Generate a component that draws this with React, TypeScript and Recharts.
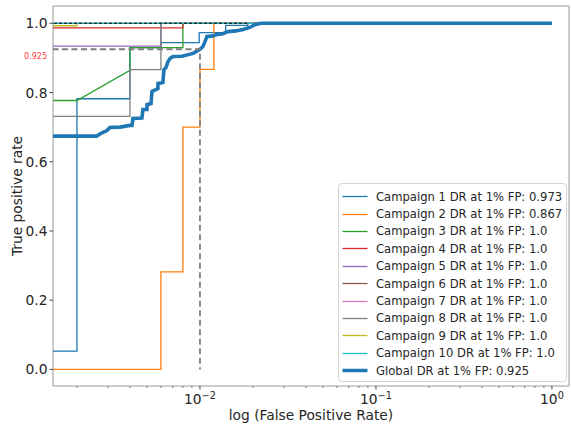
import React from 'react';
import { LineChart, Line, XAxis, YAxis, ReferenceArea, Legend } from 'recharts';

// ROC curves start at FPR = 0, which lies left of the log axis; this value stands in for it.
const X_START = 0.001;

const campaignNames = [
  'Campaign 1', 'Campaign 2', 'Campaign 3', 'Campaign 4', 'Campaign 5',
  'Campaign 6', 'Campaign 7', 'Campaign 8', 'Campaign 9', 'Campaign 10',
];
const campaignDR = ['0.973', '0.867', '1.0', '1.0', '1.0', '1.0', '1.0', '1.0', '1.0', '1.0'];
const globalDR = 0.925;
const fpThreshold = 0.01;

// [FPR, TPR] points
const campaign1 = [[X_START, 0.053], [0.002, 0.053], [0.002, 0.782], [0.004, 0.782], [0.004, 0.93], [0.006, 0.93], [0.006, 0.944], [0.0099, 0.944], [0.0099, 0.973], [0.014, 0.973], [0.014, 0.994], [0.0187, 0.994], [0.0187, 1.0], [1, 1]];
const campaign2 = [[X_START, 0], [0.006, 0], [0.006, 0.282], [0.008, 0.282], [0.008, 0.70], [0.01, 0.70], [0.01, 0.867], [0.012, 0.867], [0.012, 1.0], [1, 1]];
const campaign3 = [[X_START, 0.777], [0.002, 0.777], [0.004, 0.864], [0.004, 0.93], [0.008, 0.93], [0.008, 1.0], [1, 1]];
const campaign4 = [[X_START, 0.987], [0.008, 0.987], [0.008, 1.0], [1, 1]];
const campaign5 = [[X_START, 0.934], [0.006, 0.934], [0.006, 1.0], [1, 1]];
const campaign6 = [[X_START, 1.0], [1, 1]];
const campaign7 = [[X_START, 1.0], [1, 1]];
const campaign8 = [[X_START, 0.731], [0.004, 0.731], [0.004, 0.866], [0.006, 0.866], [0.006, 1.0], [1, 1]];
const campaign9 = [[X_START, 0.993], [0.002, 0.993], [0.002, 1.0], [1, 1]];
const campaign10 = [[X_START, 1.0], [1, 1]];
const globalCurve = [
  [X_START, 0.674], [0.00259, 0.674], [0.00274, 0.682], [0.00296, 0.69], [0.00308, 0.699],
  [0.00351, 0.70], [0.004, 0.705], [0.00411, 0.705], [0.00416, 0.725], [0.00468, 0.726],
  [0.00474, 0.751], [0.005, 0.751], [0.005, 0.765], [0.00527, 0.768], [0.00534, 0.803],
  [0.00577, 0.811], [0.00577, 0.826], [0.00616, 0.829], [0.00624, 0.866], [0.00641, 0.872],
  [0.00658, 0.889], [0.00675, 0.898], [0.00703, 0.904], [0.00791, 0.905], [0.00913, 0.913],
  [0.00987, 0.923], [0.01, 0.925], [0.0104, 0.933], [0.01068, 0.947], [0.01096, 0.962],
  [0.0117, 0.963], [0.0125, 0.9675], [0.0135, 0.97], [0.0144, 0.976], [0.016, 0.978],
  [0.01755, 0.982], [0.0192, 0.988], [0.0205, 0.996], [0.0222, 1.0], [1, 1],
];
const globalMarker = [[X_START, globalDR], [fpThreshold, globalDR], [fpThreshold, 0]];
const perfectMarker = [[X_START, 1.0], [0.0187, 1.0]];

const campaignCurves = [campaign1, campaign2, campaign3, campaign4, campaign5, campaign6, campaign7, campaign8, campaign9, campaign10];
const campaignColors = ['#1f77b4', '#ff7f0e', '#2ca02c', '#d62728', '#9467bd', '#8c564b', '#e377c2', '#7f7f7f', '#bcbd22', '#17becf'];
const globalColor = '#1f77b4';

const xMajorTicks = [0.01, 0.1, 1];
const xMajorExponents = ['\u22122', '\u22121', '0'];
const xMinorTicks = [0.002, 0.003, 0.004, 0.005, 0.006, 0.007, 0.008, 0.009, 0.02, 0.03, 0.04, 0.05, 0.06, 0.07, 0.08, 0.09, 0.2, 0.3, 0.4, 0.5, 0.6, 0.7, 0.8, 0.9];
const yTicks = [0, 0.2, 0.4, 0.6, 0.8, 1.0];
const yTickLabels = ['0.0', '0.2', '0.4', '0.6', '0.8', '1.0'];

const X_DOMAIN = [0.001462, 1.25];
const Y_DOMAIN = [-0.048, 1.05];
const FONT = '"DejaVu Sans", sans-serif';
const TEXT = '#262626';

const toPoints = (arr: number[][]) => arr.map(([x, y]) => ({ x, y }));

const XTick = (props: any) => {
  const { x, y, payload } = props;
  const v = payload.value;
  const mi = xMajorTicks.findIndex((m) => Math.abs(m - v) < 1e-9);
  const major = mi >= 0;
  return (
    <g>
      <line x1={x} x2={x} y1={y} y2={y + (major ? 3.5 : 2)} stroke="#333" strokeWidth={major ? 0.9 : 0.6} />
      {major && (
        <text x={x} y={y + 18} textAnchor="middle" fontSize={13.8} fill={TEXT} fontFamily={FONT}>
          10<tspan dy={-5.5} fontSize={9.7}>{xMajorExponents[mi]}</tspan>
        </text>
      )}
    </g>
  );
};

const YTick = (props: any) => {
  const { x, y, payload } = props;
  const v = payload.value;
  if (Math.abs(v - globalDR) < 1e-9) {
    return (
      <text x={x - 6} y={y + 7} textAnchor="end" dominantBaseline="central" fontSize={8} fill="#ff3b3b" fontFamily={FONT}>
        {String(globalDR)}
      </text>
    );
  }
  const i = yTicks.findIndex((t) => Math.abs(t - v) < 1e-9);
  return (
    <g>
      <line x1={x - 3.5} x2={x} y1={y} y2={y} stroke="#333" strokeWidth={0.9} />
      <text x={x - 5.5} y={y} textAnchor="end" dominantBaseline="central" fontSize={13.8} fill={TEXT} fontFamily={FONT}>
        {yTickLabels[i]}
      </text>
    </g>
  );
};

const legendItems = [
  ...campaignNames.map((n, i) => ({ label: `${n} DR at 1% FP: ${campaignDR[i]}`, color: campaignColors[i], width: 1.3 })),
  { label: `Global DR at 1% FP: ${globalDR}`, color: globalColor, width: 3.5 },
];

const renderLegend = () => (
  <div
    style={{
      position: 'absolute', left: 0, top: 0, width: 229, height: 199, boxSizing: 'border-box',
      border: '1px solid #d4d4d4', borderRadius: 4, background: 'rgba(255,255,255,0.85)',
      fontFamily: FONT, fontSize: 11.6, color: TEXT,
    }}
  >
    {legendItems.map((it, i) => (
      <div key={i} style={{ position: 'absolute', left: 0, top: 4 + i * 17.4, height: 17.4, display: 'flex', alignItems: 'center', whiteSpace: 'nowrap' }}>
        <svg width={37} height={17} style={{ display: 'block' }}>
          <line x1={3.5} x2={28.5} y1={8.5} y2={8.5} stroke={it.color} strokeWidth={it.width} />
        </svg>
        <span>{it.label}</span>
      </div>
    ))}
  </div>
);

export default function App() {
  return (
    <div style={{ position: 'absolute', left: 0, top: 0, width: 571, height: 424, background: '#fff' }}>
      <LineChart width={571} height={424} margin={{ top: 6, right: 2, left: 0, bottom: 0 }}>
        <XAxis
          type="number"
          dataKey="x"
          scale="log"
          domain={X_DOMAIN}
          allowDataOverflow
          ticks={[...xMinorTicks, ...xMajorTicks].sort((a, b) => a - b)}
          interval={0}
          tickLine={false}
          axisLine={false}
          tickSize={0}
          tickMargin={0}
          height={38}
          tick={<XTick />}
          label={{
            content: (p: any) => {
              const vb = p.viewBox || { x: 53, width: 516, y: 386 };
              return (
                <text x={vb.x + vb.width / 2} y={419.5} textAnchor="middle" fontSize={13.8} fill={TEXT} fontFamily={FONT}>
                  log (False Positive Rate)
                </text>
              );
            },
          }}
        />
        <YAxis
          type="number"
          dataKey="y"
          domain={Y_DOMAIN}
          allowDataOverflow
          ticks={[...yTicks, globalDR]}
          interval={0}
          tickLine={false}
          axisLine={false}
          tickSize={0}
          tickMargin={0}
          width={53}
          tick={<YTick />}
          label={{
            content: (p: any) => {
              const vb = p.viewBox || { y: 6, height: 380 };
              const cy = vb.y + vb.height / 2;
              return (
                <text x={22} y={cy} transform={`rotate(-90, 22, ${cy})`} textAnchor="middle" fontSize={13.8} fill={TEXT} fontFamily={FONT}>
                  True positive rate
                </text>
              );
            },
          }}
        />
        <ReferenceArea
          x1={X_DOMAIN[0]}
          x2={X_DOMAIN[1]}
          y1={Y_DOMAIN[0]}
          y2={Y_DOMAIN[1]}
          ifOverflow="visible"
          fill="none"
          fillOpacity={0}
          stroke="#9a9a9a"
          strokeWidth={1}
        />
        {campaignCurves.map((c, i) => (
          <Line
            key={campaignNames[i]}
            data={toPoints(c)}
            dataKey="y"
            name={campaignNames[i]}
            type="linear"
            stroke={campaignColors[i]}
            strokeWidth={1.3}
            dot={false}
            activeDot={false}
            isAnimationActive={false}
          />
        ))}
        <Line
          data={toPoints(globalCurve)}
          dataKey="y"
          name="Global"
          type="linear"
          stroke={globalColor}
          strokeWidth={3.6}
          strokeLinejoin="miter"
          dot={false}
          activeDot={false}
          isAnimationActive={false}
        />
        <Line
          data={toPoints(globalMarker)}
          dataKey="y"
          name="marker"
          legendType="none"
          type="linear"
          stroke="#7f7f7f"
          strokeWidth={1.8}
          strokeDasharray="6 3.5"
          dot={false}
          activeDot={false}
          isAnimationActive={false}
        />
        <Line
          data={toPoints(perfectMarker)}
          dataKey="y"
          name="perfect"
          legendType="none"
          type="linear"
          stroke="#000"
          strokeWidth={1.1}
          strokeDasharray="3 2"
          dot={false}
          activeDot={false}
          isAnimationActive={false}
        />
        <Legend
          content={renderLegend}
          wrapperStyle={{ position: 'absolute', left: 338, top: 183, width: 0, height: 0, overflow: 'visible' }}
        />
      </LineChart>
    </div>
  );
}
